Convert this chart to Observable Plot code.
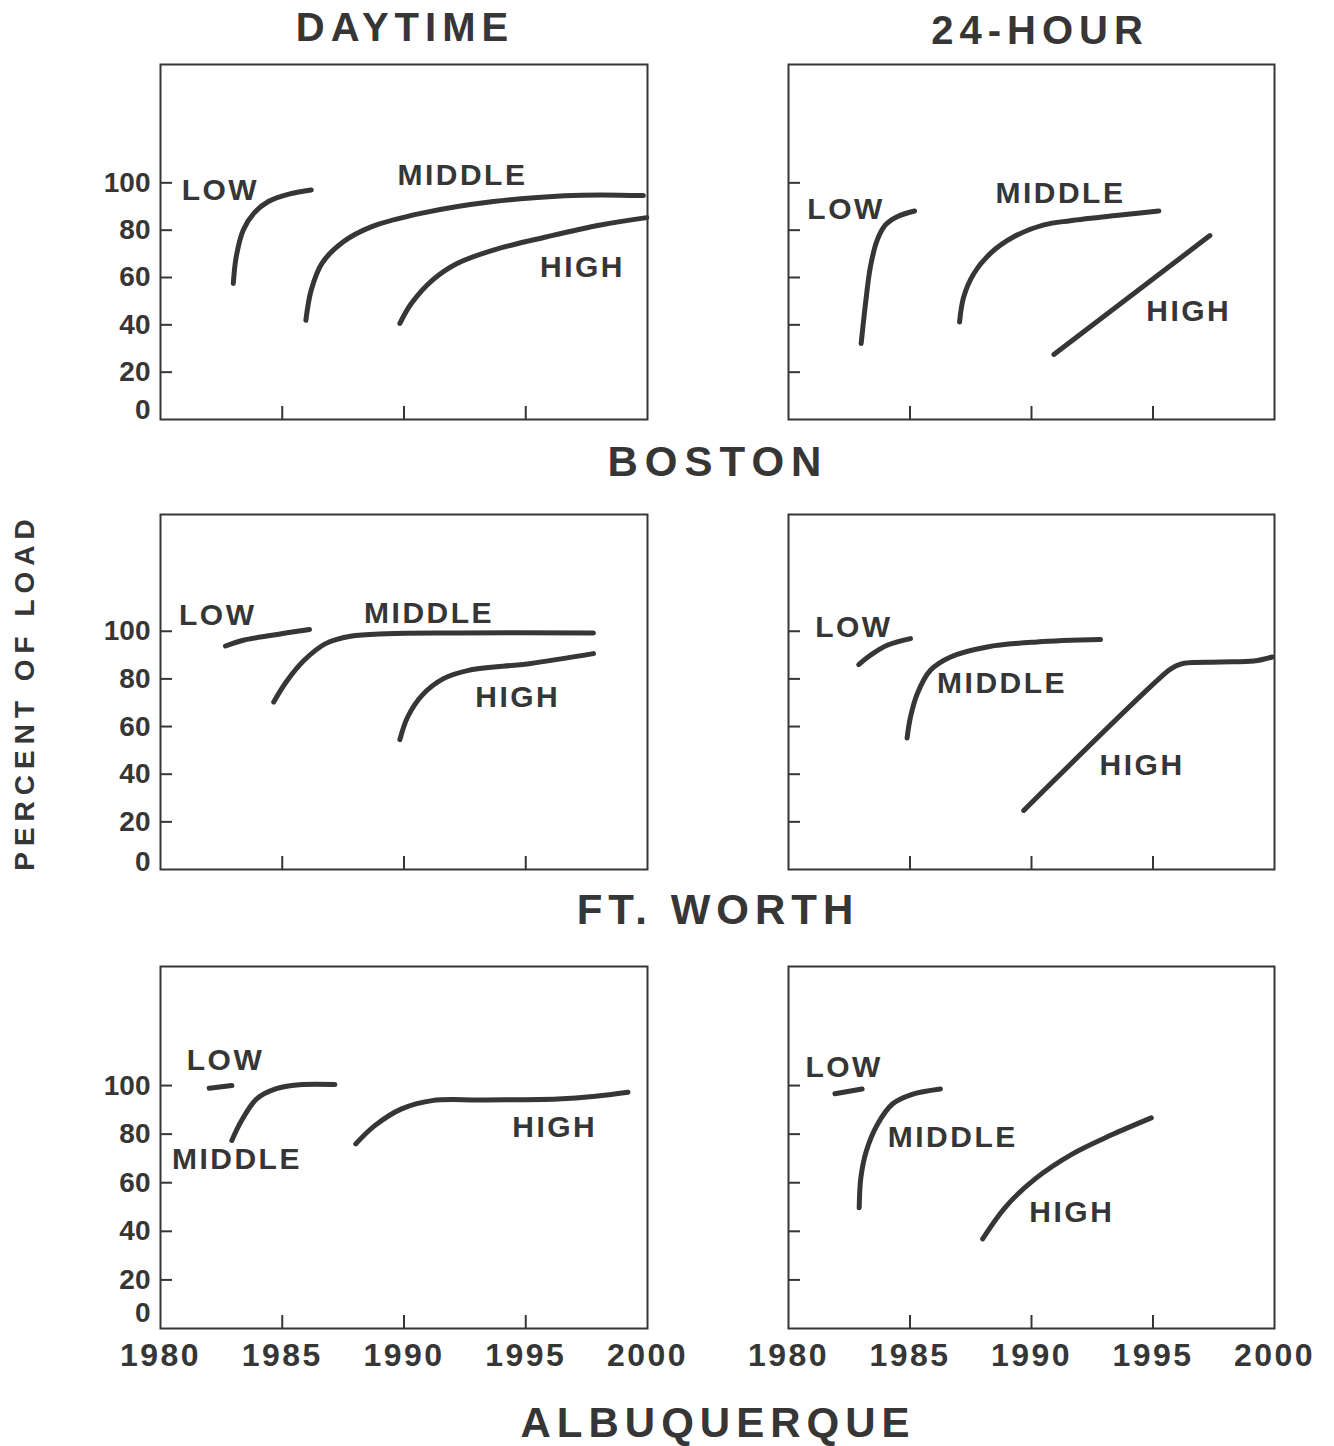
<!DOCTYPE html>
<html><head><meta charset="utf-8">
<script src="https://cdn.jsdelivr.net/npm/d3@7"></script>
<script src="https://cdn.jsdelivr.net/npm/@observablehq/plot@0.6"></script>
<style>
html,body{margin:0;padding:0;background:#fff;}
#root{position:relative;width:1334px;height:1446px;background:#fff;font-family:"Liberation Sans",Arial,sans-serif;color:#3a3a3a;overflow:hidden}
.t{position:absolute;transform:translate(-50%,-50%);font-weight:bold;white-space:nowrap;line-height:1}
.panel{position:absolute;}
.panel svg{overflow:visible}
.panel svg text{font-family:"Liberation Sans",Arial,sans-serif;font-weight:bold;}
.panel g[aria-label="text"] text{letter-spacing:2.5px}
.panel g[aria-label="x-axis tick label"] text{letter-spacing:2.5px}
</style></head><body><div id="root"></div>
<script>
// ---- data ----
const periods = ["DAYTIME", "24-HOUR"];
const cities = ["BOSTON", "FT. WORTH", "ALBUQUERQUE"];
const seriesNames = ["LOW", "MIDDLE", "HIGH"];
const yearLabels = [1980, 1985, 1990, 1995, 2000];
const yearTicks = [1985, 1990, 1995];
const pctTicks = [20, 40, 60, 80, 100];
const axisTitle = "PERCENT OF LOAD";

// [year, percent of load]
const bostonDayLow = [[1982.99,57.5],[1983.11,68.8],[1983.40,80.1],[1983.84,87.2],[1984.43,92.1],[1985.31,95.3],[1986.19,97.0]];
const bostonDayMiddle = [[1985.97,41.9],[1986.19,54.7],[1986.63,66.0],[1987.51,75.1],[1988.68,81.5],[1990.74,87.2],[1993.67,92.1],[1996.60,94.5],[1998.07,94.9],[1999.83,94.6]];
const bostonDayHigh = [[1989.83,40.6],[1990.30,49.0],[1991.17,58.9],[1992.20,66.0],[1993.67,71.6],[1995.87,77.2],[1998.07,82.2],[1999.97,85.3]];
const bostonDayLabelAt = [[1982.46,97],[1992.4,103],[1997.33,64.4]];

const boston24Low = [[1982.99,32.1],[1983.17,49.0],[1983.37,64.5],[1983.65,75.8],[1983.99,82.2],[1984.47,85.7],[1985.19,88.1]];
const boston24Middle = [[1987.04,41.2],[1987.21,51.8],[1987.63,61.7],[1988.31,70.2],[1989.27,77.2],[1990.51,82.2],[1991.60,84.0],[1993.66,86.4],[1995.24,88.1]];
const boston24High = [[1990.92,27.5],[1997.34,77.7]];
const boston24LabelAt = [[1982.37,88.6],[1991.19,95.6],[1996.47,45.5]];

const ftWorthDayLow = [[1982.67,93.8],[1983.40,96.2],[1984.58,98.3],[1986.12,100.7]];
const ftWorthDayMiddle = [[1984.65,70.3],[1985.16,78.7],[1985.90,87.8],[1986.78,94.8],[1987.80,97.9],[1989.27,99.0],[1992.20,99.3],[1997.78,99.3]];
const ftWorthDayHigh = [[1989.83,54.5],[1990.15,64.0],[1990.74,73.1],[1991.62,80.1],[1992.65,83.6],[1995.14,86.4],[1997.78,90.6]];
const ftWorthDayLabelAt = [[1982.35,106.7],[1991.03,107.4],[1994.67,72.4]];

const ftWorth24Low = [[1982.89,86.0],[1983.37,89.9],[1984.06,94.1],[1985.02,96.9]];
const ftWorth24Middle = [[1984.88,55.2],[1985.02,64.0],[1985.30,73.8],[1985.84,83.6],[1986.67,89.2],[1988.18,93.4],[1990.23,95.5],[1992.84,96.5]];
const ftWorth24High = [[1989.68,24.8],[1995.65,83.6],[1995.93,85.4],[1996.27,86.6],[1997.78,87.1],[1999.15,87.5],[1999.91,89.2]];
const ftWorth24LabelAt = [[1982.69,101.8],[1988.79,78.0],[1994.55,43.7]];

const albuquerqueDayLow = [[1982.0,98.9],[1982.93,100.0]];
const albuquerqueDayMiddle = [[1982.93,77.4],[1983.33,85.6],[1983.95,94.5],[1984.73,98.6],[1985.83,100.4],[1987.16,100.4]];
const albuquerqueDayHigh = [[1988.02,76.0],[1988.80,83.5],[1989.90,90.4],[1991.15,93.8],[1993.18,94.1],[1996.31,94.5],[1997.87,95.6],[1999.20,97.2]];
const albuquerqueDayLabelAt = [[1982.67,110.3],[1983.14,69.8],[1996.19,82.8]];

const albuquerque24Low = [[1981.91,96.6],[1983.03,98.6]];
const albuquerque24Middle = [[1982.91,49.7],[1982.98,62.3],[1983.21,73.3],[1983.67,84.2],[1984.29,92.5],[1985.06,96.3],[1986.25,98.6]];
const albuquerque24High = [[1987.99,36.9],[1988.92,49.9],[1990.15,61.6],[1991.69,71.9],[1993.23,79.4],[1994.93,86.7]];
const albuquerque24LabelAt = [[1982.29,107.5],[1986.76,78.7],[1991.66,47.9]];

// ---- layout ----
const ink = "#363636";
const root = document.getElementById("root");

function addText(str, x, y, size, spacing, rotate) {
  const d = document.createElement("div");
  d.className = "t";
  d.textContent = str;
  d.style.left = x + "px";
  d.style.top = y + "px";
  d.style.fontSize = size + "px";
  d.style.letterSpacing = spacing + "px";
  d.style.color = ink;
  if (rotate) d.style.transform = "translate(-50%,-50%) rotate(-90deg)";
  root.appendChild(d);
}

const colGeom = [
  {left: 40, width: 620, marginLeft: 120, marginRight: 13},
  {left: 740, width: 560, marginLeft: 48, marginRight: 26}
];
const rowGeom = [
  {top: 54, plotH: 355, marginBottom: 10, yMax: 150, zeroDy: -9},
  {top: 504, plotH: 355, marginBottom: 10, yMax: 149, zeroDy: -7},
  {top: 956, plotH: 362, marginBottom: 60, yMax: 149, zeroDy: -15}
];

const panels = [
  {row: 0, col: 0, series: [bostonDayLow, bostonDayMiddle, bostonDayHigh], labels: bostonDayLabelAt},
  {row: 0, col: 1, series: [boston24Low, boston24Middle, boston24High], labels: boston24LabelAt},
  {row: 1, col: 0, series: [ftWorthDayLow, ftWorthDayMiddle, ftWorthDayHigh], labels: ftWorthDayLabelAt},
  {row: 1, col: 1, series: [ftWorth24Low, ftWorth24Middle, ftWorth24High], labels: ftWorth24LabelAt},
  {row: 2, col: 0, series: [albuquerqueDayLow, albuquerqueDayMiddle, albuquerqueDayHigh], labels: albuquerqueDayLabelAt},
  {row: 2, col: 1, series: [albuquerque24Low, albuquerque24Middle, albuquerque24High], labels: albuquerque24LabelAt}
];

for (const p of panels) {
  const cg = colGeom[p.col], rg = rowGeom[p.row];
  const lineData = [];
  p.series.forEach((pts, i) => pts.forEach(([year, pct]) => lineData.push({series: seriesNames[i], year, pct})));
  const labelData = p.labels.map(([year, pct], i) => ({year, pct, name: seriesNames[i]}));
  const marks = [
    Plot.frame({stroke: ink, strokeWidth: 2}),
    Plot.axisX({ticks: yearTicks, tickSize: -13, tickFormat: () => "", color: ink, strokeWidth: 2, label: null}),
    Plot.axisY({ticks: pctTicks, tickSize: -12, tickFormat: () => "", color: ink, strokeWidth: 2, label: null}),
    Plot.line(lineData, {x: "year", y: "pct", z: "series", stroke: ink, strokeWidth: 5, curve: "catmull-rom", strokeLinecap: "round", strokeLinejoin: "round"}),
    Plot.text(labelData, {x: "year", y: "pct", text: "name", fontSize: 30, fill: ink, fontWeight: "bold"})
  ];
  if (p.col === 0) {
    marks.push(Plot.axisY({ticks: pctTicks, tickSize: 0, tickPadding: 10, fontSize: 28, color: ink, label: null}));
    marks.push(Plot.axisY({ticks: [0], tickSize: 0, tickPadding: 10, dy: rg.zeroDy, fontSize: 28, color: ink, label: null}));
  }
  if (p.row === 2) {
    marks.push(Plot.axisX({ticks: yearLabels, tickSize: 0, tickPadding: 15, fontSize: 32, color: ink, tickFormat: d => String(d), label: null}));
  }
  const chart = Plot.plot({
    width: cg.width,
    height: 10 + rg.plotH + rg.marginBottom,
    marginTop: 10,
    marginBottom: rg.marginBottom,
    marginLeft: cg.marginLeft,
    marginRight: cg.marginRight,
    x: {domain: [1980, 2000], label: null},
    y: {domain: [0, rg.yMax], label: null},
    style: {fontFamily: "'Liberation Sans', Arial, sans-serif", fontWeight: "bold", color: ink, background: "transparent"},
    marks
  });
  const wrap = document.createElement("div");
  wrap.className = "panel";
  wrap.style.left = cg.left + "px";
  wrap.style.top = rg.top + "px";
  wrap.appendChild(chart);
  root.appendChild(wrap);
}

// titles
addText(periods[0], 405, 27, 40, 6);
addText(periods[1], 1040, 30, 40, 6);
addText(cities[0], 718, 462, 42, 7);
addText(cities[1], 718, 910, 42, 6);
addText(cities[2], 718, 1423, 42, 6);
addText(axisTitle, 25, 692, 28, 6, true);
</script></body></html>
